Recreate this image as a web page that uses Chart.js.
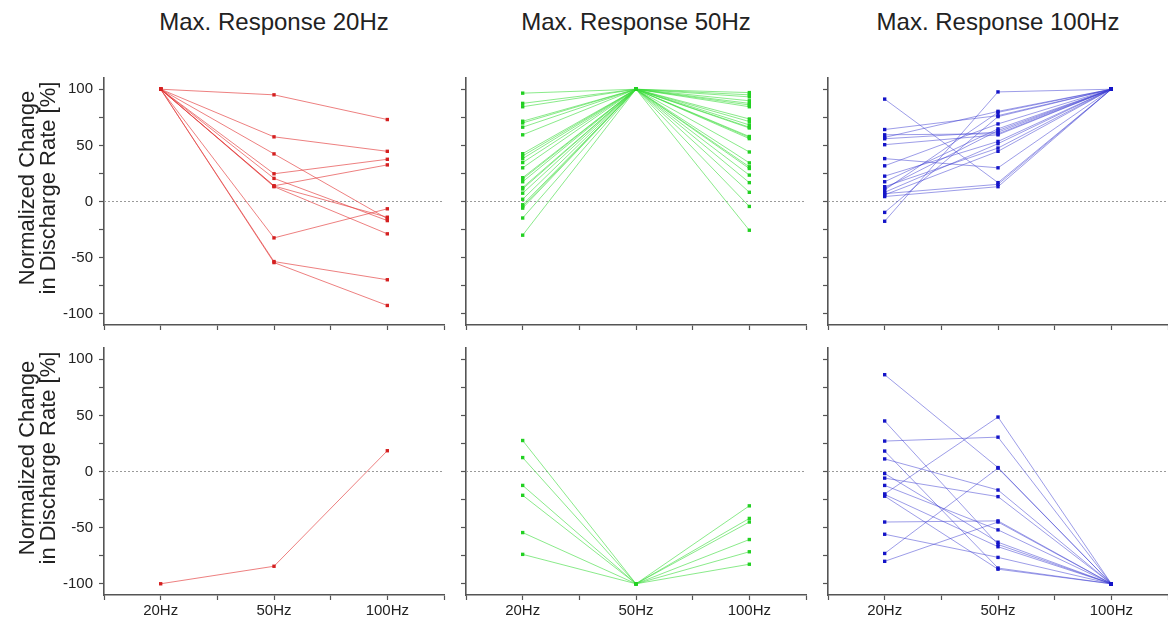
<!DOCTYPE html>
<html lang="en">
<head>
    <meta charset="UTF-8">
    <title>Max. Response</title>
    <script src="https://cdn.jsdelivr.net/npm/chart.js@4.4.1/dist/chart.umd.min.js"></script>
    <style>
        body { margin: 0; background: #fff; font-family: "Liberation Sans", Arial, sans-serif; color: #222; }
        #page { position: relative; width: 1168px; height: 619px; overflow: hidden; }
        .panel { position: absolute; }
        .title { position: absolute; font-size: 24px; transform: translate(-50%, -50%); white-space: nowrap; }
        .ytitle { position: absolute; font-size: 22px; line-height: 21px; text-align: center; white-space: nowrap;
                  transform: translate(-50%, -50%) rotate(-90deg); }
    </style>
</head>
<body>
<div id="page"></div>

<script>
    // categories on the x axis
    const freqLabels = ['20Hz', '50Hz', '100Hz'];
    const panelTitles = ['Max. Response 20Hz', 'Max. Response 50Hz', 'Max. Response 100Hz'];
    const yTitleLines = ['Normalized Change', 'in Discharge Rate [%]'];
    const yTickLabels = [100, 50, 0, -50, -100];

    // one row per cell: [20Hz, 50Hz, 100Hz] in %
    const topRed = [
        [100, 95, 73], [100, 57.6, 44.7], [100, 42.4, -15.3], [100, 24.7, 37.6],
        [100, 20.6, -17], [100, 14, 32.6], [100, 13.2, -28.8], [100, 13.8, -14],
        [100, -32.4, -6.5], [100, -53.5, -69.7], [100, -54.4, -92.6]
    ];
    const topGreen = [
        [96.5, 100, 97], [87.4, 100, 95], [84.4, 100, 93.2], [71.5, 100, 89.7],
        [70, 100, 87.4], [66.2, 100, 86], [59.4, 100, 84.4], [42.6, 100, 73.5],
        [40.6, 100, 71.2], [38.2, 100, 68.2], [34.7, 100, 66.2], [30, 100, 65.5],
        [21.2, 100, 57.9], [20, 100, 57.1], [17.6, 100, 56], [12.4, 100, 44.1],
        [11.2, 100, 34.4], [7.4, 100, 30.9], [2, 100, 29.4], [-2.9, 100, 23.5],
        [-4.4, 100, 16.8], [-5.9, 100, 8.2], [-14.7, 100, -4.4], [-30, 100, -25.6]
    ];
    const topBlue = [
        [91.2, 16.8, 100], [64.1, 76.5, 100], [59.4, 60.3, 100], [57.1, 80.3, 100],
        [55.9, 61.8, 100], [50.6, 59.4, 100], [38.2, 30, 100], [31.8, 69.1, 100],
        [22.6, 53.5, 100], [17.6, 64.7, 100], [13.2, 47.6, 100], [11.8, 63.2, 100],
        [10.3, 79.4, 100], [8.2, 51.5, 100], [5.9, 44.7, 100], [4.4, 13.2, 100],
        [7, 15.3, 100], [-9.7, 75.6, 100], [-17.6, 97.6, 100]
    ];
    const bottomRed = [
        [-100, -84.4, 18.5]
    ];
    const bottomGreen = [
        [27.6, -100, -30.6], [12.4, -100, -41.8], [-12.4, -100, -45],
        [-21.2, -100, -60.6], [-54.4, -100, -71.5], [-73.8, -100, -82.6]
    ];
    const bottomBlue = [
        [86.2, 3.5, -100], [45, -65, -100], [27.1, 30.6, -100], [18.2, -86, -100],
        [11.2, -16.5, -100], [-1.8, -63, -100], [-5.9, -22.4, -100], [-12.4, -52, -100],
        [-20, 48.5, -100], [-22, -87, -100], [-45, -44, -100], [-55.9, -76.5, -100],
        [-73, 3, -100], [-80, -45, -100], [-20.5, -67, -100]
    ];

    const page = document.getElementById('page');

    // plot area geometry (px)
    const colLeft = [104, 466, 828];
    const rowTop = [75, 345];
    const plotW = 340, plotH = 250;
    const axisW = 60, axisH = 35, padTop = 12, padRight = 12;

    const panels = [
        { rows: topRed, col: 0, row: 0, point: '#d42020', line: 'rgba(228,60,60,0.65)' },
        { rows: topGreen, col: 1, row: 0, point: '#22d022', line: 'rgba(60,220,60,0.6)' },
        { rows: topBlue, col: 2, row: 0, point: '#1414c8', line: 'rgba(60,60,210,0.5)' },
        { rows: bottomRed, col: 0, row: 1, point: '#d42020', line: 'rgba(228,60,60,0.65)' },
        { rows: bottomGreen, col: 1, row: 1, point: '#22d022', line: 'rgba(60,220,60,0.6)' },
        { rows: bottomBlue, col: 2, row: 1, point: '#1414c8', line: 'rgba(60,60,210,0.5)' }
    ];

    // dotted line at 0
    const zeroLine = {
        id: 'zeroLine',
        beforeDatasetsDraw(chart) {
            const a = chart.chartArea;
            const py = chart.scales.y.getPixelForValue(0);
            const ctx = chart.ctx;
            ctx.save();
            ctx.strokeStyle = '#9a9a9a';
            ctx.lineWidth = 1;
            ctx.setLineDash([2, 2]);
            ctx.beginPath();
            ctx.moveTo(a.left, py);
            ctx.lineTo(a.right, py);
            ctx.stroke();
            ctx.restore();
        }
    };

    panels.forEach(p => {
        const div = document.createElement('div');
        div.className = 'panel';
        div.style.left = (colLeft[p.col] - axisW) + 'px';
        div.style.top = (rowTop[p.row] - padTop) + 'px';
        const canvas = document.createElement('canvas');
        canvas.width = axisW + plotW + padRight;
        canvas.height = padTop + plotH + axisH;
        div.appendChild(canvas);
        page.appendChild(div);

        const datasets = p.rows.map(r => ({
            data: r.map((v, i) => ({ x: i, y: v })),
            borderColor: p.line,
            borderWidth: 1,
            pointStyle: 'rect',
            pointRadius: 2.4,
            pointBackgroundColor: p.point,
            pointBorderColor: p.point,
            pointBorderWidth: 0,
            tension: 0
        }));

        const showY = p.col === 0;
        const showX = p.row === 1;

        new Chart(canvas, {
            type: 'line',
            data: { datasets: datasets },
            plugins: [zeroLine],
            options: {
                responsive: false,
                animation: false,
                events: [],
                layout: { padding: { top: padTop, right: padRight, left: 0, bottom: 0 } },
                plugins: { legend: { display: false }, tooltip: { enabled: false } },
                scales: {
                    x: {
                        type: 'linear',
                        min: -0.5,
                        max: 2.5,
                        afterBuildTicks: s => { s.ticks = [-0.5, 0, 0.5, 1, 1.5, 2, 2.5].map(v => ({ value: v })); },
                        afterFit: s => { s.height = axisH; },
                        grid: { drawOnChartArea: false, tickLength: 5, tickColor: '#555', tickWidth: 1.2 },
                        border: { color: '#555', width: 1.6 },
                        ticks: {
                            autoSkip: false,
                            maxRotation: 0,
                            padding: 2,
                            color: '#222',
                            font: { family: '"Liberation Sans", Arial, sans-serif', size: 15 },
                            callback: v => (showX && Number.isInteger(v) && v >= 0 && v <= 2) ? freqLabels[v] : ''
                        }
                    },
                    y: {
                        min: -110,
                        max: 110,
                        afterBuildTicks: s => {
                            const t = [];
                            for (let v = -100; v <= 100; v += 25) t.push({ value: v });
                            s.ticks = t;
                        },
                        afterFit: s => { s.width = axisW; },
                        grid: { drawOnChartArea: false, tickLength: 5, tickColor: '#555', tickWidth: 1.2 },
                        border: { color: '#555', width: 1.6 },
                        ticks: {
                            autoSkip: false,
                            padding: 6,
                            color: '#222',
                            font: { family: '"Liberation Sans", Arial, sans-serif', size: 15 },
                            callback: v => (showY && yTickLabels.includes(v)) ? String(v) : ''
                        }
                    }
                }
            }
        });
    });

    // column titles, centred over 50Hz
    panelTitles.forEach((t, i) => {
        const el = document.createElement('div');
        el.className = 'title';
        el.textContent = t;
        el.style.left = (colLeft[i] + plotW / 2) + 'px';
        el.style.top = '22px';
        page.appendChild(el);
    });

    // y axis titles, one per row
    rowTop.forEach(top => {
        const el = document.createElement('div');
        el.className = 'ytitle';
        el.innerHTML = yTitleLines.join('<br>');
        el.style.left = '37px';
        el.style.top = (top + plotH / 2 - 12) + 'px';
        page.appendChild(el);
    });
</script>
</body>
</html>
